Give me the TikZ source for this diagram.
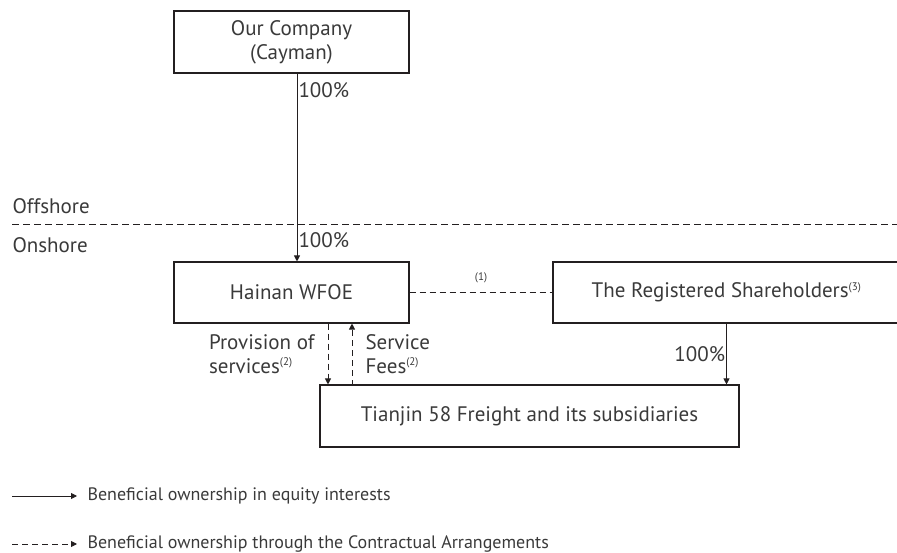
\documentclass[tikz,border=0pt]{standalone}
\usepackage{fontspec}
\setmainfont{PT Sans}
\usetikzlibrary{arrows.meta,positioning}
\definecolor{inkline}{HTML}{231F20}
\definecolor{inktext}{HTML}{3A3A3A}
\newcommand{\refmark}[1]{\textsuperscript{\fontsize{11}{11}\selectfont(#1)}}

\begin{document}
\begin{tikzpicture}[x=1pt,y=-1pt,font=\fontsize{21}{24}\selectfont,text=inktext]
    \tikzstyle{entity}=[draw=inkline,line width=1.1pt,rectangle,align=center,inner sep=0pt]
    \tikzstyle{own}=[draw=inkline,line width=1pt,-{Triangle[length=6pt,width=6pt]}]
    \tikzstyle{contract}=[own,dash pattern=on 6pt off 4pt]
    \tikzstyle{note}=[font=\fontsize{11}{12}\selectfont]
    \tikzstyle{legend}=[anchor=west,font=\fontsize{18}{20}\selectfont]
    \useasboundingbox (0,0) rectangle (897,553);

    \node[entity,minimum width=235pt,minimum height=62pt] at (291.5,42) (comp) {Our Company\\(Cayman)};
    \node[entity,minimum width=235pt,minimum height=61pt] at (291.5,292.5) (wfoe) {Hainan WFOE};
    \node[entity,minimum width=347pt,minimum height=61pt] at (726.5,292.5) (regsh) {The Registered Shareholders\refmark{3}};
    \node[entity,minimum width=419pt,minimum height=62pt] at (529.5,416) (tianjin) {Tianjin 58 Freight and its subsidiaries};

    \draw[draw=inkline,line width=1pt,dash pattern=on 7pt off 4pt] (12,225) -- (897,225);
    \node[anchor=west] at (9,206) (off) {Offshore};
    \node[anchor=west] at (9,245) (on) {Onshore};

    \draw[own] ([xshift=5.5pt]comp.south) -- ([xshift=5.5pt]wfoe.north)
        node[pos=0.09,right,inner sep=1pt] {100\%}
        node[pos=0.885,right,inner sep=1pt] {100\%};
    \draw[draw=inkline,line width=1pt,dash pattern=on 6pt off 4pt] (wfoe.east) -- (regsh.west)
        node[midway,above=6pt,note] {(1)};
    \draw[own] (regsh.south) -- (regsh.south |- tianjin.north)
        node[midway,left,inner sep=1pt] {100\%};

    \draw[contract] (wfoe.south) ++(36.5,0) coordinate (prov) -- (prov |- tianjin.north);
    \draw[contract] (wfoe.south) ++(60.5,0) coordinate (fees) ++(0,62) -- (fees);
    \node[anchor=east,align=left] at (318,354) (provlbl) {Provision of\\services\refmark{2}};
    \node[anchor=west,align=left] at (362,354) (feeslbl) {Service\\Fees\refmark{2}};

    % legend
    \coordinate (solidA) at (12,496);
    \coordinate (solidB) at (77,496);
    \coordinate (dashA) at (12,544);
    \coordinate (dashB) at (77,544);
    \draw[own,line width=0.9pt] (solidA) -- (solidB);
    \draw[own,line width=0.9pt,dash pattern=on 6pt off 4pt] (dashA) -- (dashB);
    \node[legend] at (84,496) (legsolid) {Beneficial ownership in equity interests};
    \node[legend] at (84,544) (legdash) {Beneficial ownership through the Contractual Arrangements};
\end{tikzpicture}
\end{document}
